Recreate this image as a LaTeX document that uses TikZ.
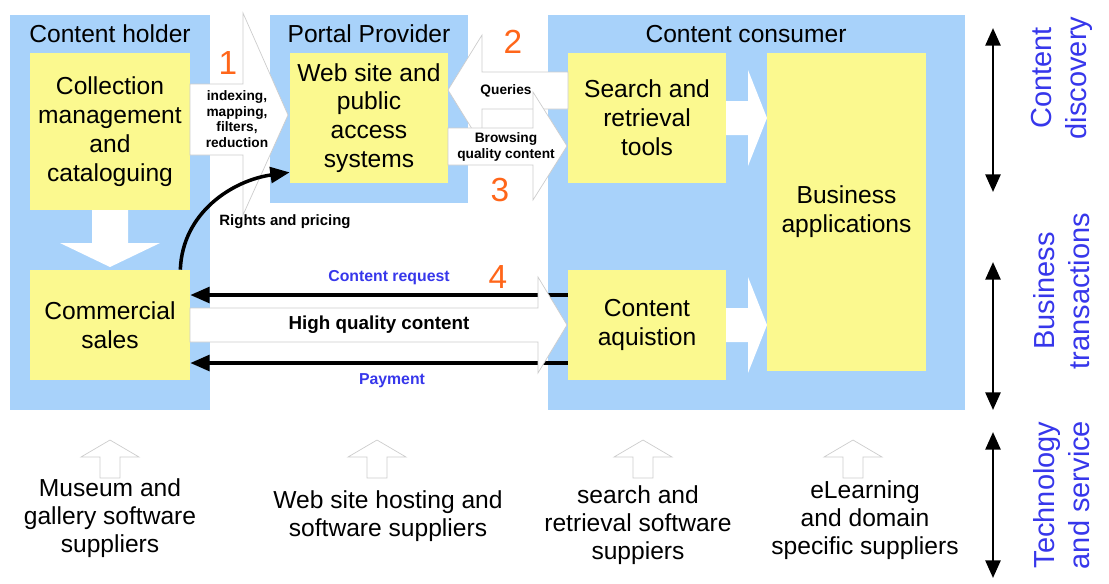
\documentclass[tikz,border=0pt]{standalone}
\usepackage{fontspec}
\setmainfont{Liberation Sans}
\usetikzlibrary{arrows.meta}
\definecolor{paleblue}{RGB}{168,210,250}
\definecolor{paleyellow}{RGB}{251,249,143}
\definecolor{numorange}{RGB}{255,102,26}
\definecolor{labelblue}{RGB}{55,55,235}
\definecolor{arrowgrey}{RGB}{205,205,205}

\begin{document}
\begin{tikzpicture}[x=0.02cm,y=-0.02cm]
        \tikzstyle{party}=[fill=paleblue,inner sep=0pt]
        \tikzstyle{activity}=[fill=paleyellow,inner sep=0pt,align=center,font=\fontsize{14}{16.4}\selectfont]
        \tikzstyle{title}=[font=\fontsize{14}{16.4}\selectfont]
        \tikzstyle{block}=[fill=white,draw=arrowgrey,line width=0.4pt]
        \tikzstyle{flow}=[draw=black,line width=2pt,-{Triangle[length=11pt,width=9pt]}]
        \tikzstyle{small}=[font=\fontsize{7.8}{8.8}\selectfont\bfseries,align=center]
        \tikzstyle{number}=[text=numorange,font=\fontsize{19}{22}\selectfont]
        \tikzstyle{money}=[text=labelblue,font=\fontsize{9}{11}\selectfont\bfseries]
        \tikzstyle{layer}=[text=labelblue,rotate=90,align=center,font=\fontsize{16.5}{19.8}\selectfont]
        \tikzstyle{supplier}=[align=center,font=\fontsize{14}{15.9}\selectfont]
        \tikzstyle{span}=[line width=1.5pt,{Triangle[length=10pt,width=8.5pt]}-{Triangle[length=10pt,width=8.5pt]}]

        \useasboundingbox (0,0) rectangle (1109,583);

        % parties
        \node [party,minimum width=4cm,minimum height=7.9cm] (holder) at (110,212.5) {};
        \node [party,minimum width=3.96cm,minimum height=3.76cm] (portal) at (369,109) {};
        \node [party,minimum width=8.34cm,minimum height=7.9cm] (consumer) at (756.5,212.5) {};
        \node [title] (holdertitle) at (110,34) {Content holder};
        \node [title] (portaltitle) at (369,34) {Portal Provider};
        \node [title] (consumertitle) at (746,34) {Content consumer};

        % activities
        \node [activity,minimum width=3.2cm,minimum height=3.14cm] (coll) at (110,131.5) {Collection\\management\\and\\cataloguing};
        \node [activity,minimum width=3.2cm,minimum height=2.2cm] (sales) at (110,325) {Commercial\\sales};
        \node [activity,minimum width=3.16cm,minimum height=2.6cm] (web) at (369,118) {Web site and\\public\\access\\systems};
        \node [activity,minimum width=3.16cm,minimum height=2.6cm] (search) at (647,118) {Search and\\retrieval\\tools};
        \node [activity,minimum width=3.16cm,minimum height=2.2cm] (acq) at (647,325) {Content\\aquistion};
        \node [activity,minimum width=3.18cm,minimum height=6.36cm] (apps) at (846.5,212) {Business\\applications};

        \coordinate (req) at (0,295);
        \coordinate (pay) at (0,363);
        \draw [flow] (acq.west |- req) -- (sales.east |- req);
        \draw [flow] (acq.west |- pay) -- (sales.east |- pay);

        % block arrows
        \fill [white] (92,210) -- (128,210) -- (128,243) -- (160,243) -- (110,267) -- (60,243) -- (92,243) -- cycle;
        \draw [block] (190,84) -- (243,84) -- (243,13) -- (288,115) -- (243,215) -- (243,155) -- (190,155) -- cycle;
        \draw [block] (568,72) -- (482,72) -- (482,35) -- (448,90) -- (482,145) -- (482,109) -- (568,109) -- cycle;
        \draw [block] (448,128) -- (533,128) -- (533,92) -- (567,146) -- (533,200) -- (533,165) -- (448,165) -- cycle;
        \draw [block] (190,308) -- (538,308) -- (538,277) -- (567,325) -- (538,373) -- (538,342) -- (190,342) -- cycle;
        \foreach \y in {118,325}
            \fill [white] (726,\y-17) -- (748,\y-17) -- (748,\y-48) -- (767,\y) -- (748,\y+48) -- (748,\y+17) -- (726,\y+17) -- cycle;

        \draw [flow] ([xshift=-0.2cm]sales.north east) to [out=88,in=188] ([yshift=0.22cm]web.south west);

        \node [small] (idx) at (237,119) {indexing,\\mapping,\\filters,\\reduction};
        \node [small] (queries) at (506,91) {Queries};
        \node [small] (browse) at (506,147) {Browsing\\quality content};
        \node [small,font=\fontsize{8.5}{10}\selectfont\bfseries] (rights) at (285,222) {Rights and pricing};
        \node [font=\fontsize{10.7}{12}\selectfont\bfseries] (hq) at (379,325) {High quality content};
        \node [money] (request) at (389,278) {Content request};
        \node [money] (payment) at (392,381) {Payment};
        \node [number] (n1) at (228,63) {1};
        \node [number] (n2) at (513,42) {2};
        \node [number] (n3) at (500,190) {3};
        \node [number] (n4) at (498,277) {4};

        % layers
        \coordinate (d1) at (993,28);
        \coordinate (d2) at (993,192);
        \coordinate (d3) at (993,262);
        \coordinate (d4) at (993,410);
        \coordinate (d5) at (993,432);
        \coordinate (d6) at (993,578);
        \draw [span] (d1) -- (d2);
        \draw [span] (d3) -- (d4);
        \draw [span] (d5) -- (d6);
        \node [layer] (discovery) at (1062,78) {Content\\discovery};
        \node [layer] (transactions) at (1062,291) {Business\\transactions};
        \node [layer] (technology) at (1062,495) {Technology\\and service};

        % suppliers
        \foreach \x in {110,377,643,853}
            \draw [block] (\x-10,478) -- (\x-10,457) -- (\x-29,457) -- (\x,440) -- (\x+29,457) -- (\x+10,457) -- (\x+10,478) -- cycle;
        \node [supplier] (museum) at (110,518) {Museum and\\gallery software\\suppliers};
        \node [supplier] (hosting) at (388,516) {Web site hosting and\\software suppliers};
        \node [supplier] (searchsw) at (638,525) {search and\\retrieval software\\suppiers};
        \node [supplier] (elearn) at (865,520) {eLearning\\and domain\\specific suppliers};
\end{tikzpicture}
\end{document}
